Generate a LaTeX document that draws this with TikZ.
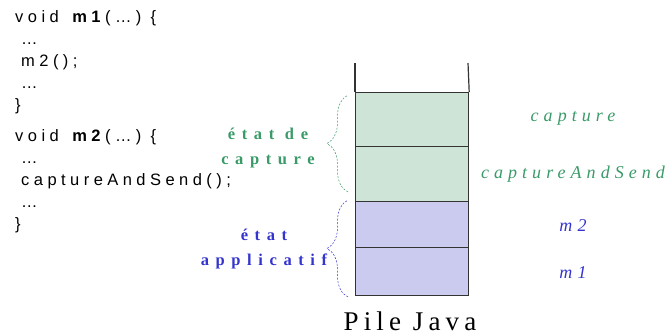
\documentclass[tikz,border=0pt]{standalone}
\usepackage{fontspec}
\setmainfont{Liberation Serif}
\newfontfamily\codefont[LetterSpace=27]{Liberation Sans}
\newfontfamily\tagfont[LetterSpace=28]{Liberation Serif}
\newfontfamily\bracefont[LetterSpace=40]{Liberation Serif}
\newfontfamily\pilefont[LetterSpace=19]{Liberation Serif}
\usetikzlibrary{decorations.pathreplacing}

\definecolor{capgreen}{RGB}{58,154,104}
\definecolor{appblue}{RGB}{52,52,206}
\definecolor{capfill}{RGB}{206,228,214}
\definecolor{appfill}{RGB}{203,203,240}

\tikzset{
  code/.style={anchor=north west, inner sep=0, align=left,
    font=\codefont\fontsize{16.5}{22}\selectfont},
  frame/.style={draw=black!80, line width=1.2pt, minimum width=113pt, inner sep=0, anchor=north west},
  tag/.style={font=\tagfont\itshape\fontsize{18}{22}\selectfont},
  state/.style={font=\bracefont\bfseries\fontsize{16.5}{25}\selectfont, align=center},
  stackbrace/.style={decorate, decoration={brace, amplitude=21pt}, dash pattern=on 2pt off 1.5pt, line width=0.5pt}
}

\begin{document}
\begin{tikzpicture} [x=1pt, y=-1pt]
\useasboundingbox (0, 0) rectangle (671, 335);

\path (15, 10) node[code] (c1) {void \textbf{m1}(…) \{\\\hspace*{6pt}…\\\hspace*{6pt}m2();\\\hspace*{6pt}…\\\}}
      (15, 129) node[code] (c2) {void \textbf{m2}(…) \{\\\hspace*{6pt}…\\\hspace*{6pt}captureAndSend();\\\hspace*{6pt}…\\\}}

      (355, 92) node[frame, fill=capfill, minimum height=54pt] (fcap) {}
      (355, 146) node[frame, fill=capfill, minimum height=55pt] (fsend) {}
      (355, 201) node[frame, fill=appfill, minimum height=46pt] (fm2) {}
      (355, 247) node[frame, fill=appfill, minimum height=48pt] (fm1) {}

      (573, 118) node[tag, text=capgreen] (tcap) {capture}
      (573, 174) node[tag, text=capgreen] (tsend) {captureAndSend}
      (573, 226) node[tag, text=appblue] (tm2) {m2}
      (573, 273) node[tag, text=appblue] (tm1) {m1}

      (268, 148) node[state, text=capgreen] (scap) {état de\\capture}
      (264, 249) node[state, text=appblue] (sapp) {état\\applicatif}

      (410, 330) node[anchor=base, inner sep=0, font=\pilefont\fontsize{27}{30}\selectfont] (pile) {Pile Java}

      (355, 63) coordinate (wl)
      (468, 63) coordinate (wr)
      (348, 95) coordinate (b1)
      (348, 192) coordinate (b2)
      (348, 200) coordinate (b3)
      (348, 297) coordinate (b4);

\draw[black!80, line width=1.2pt] (fcap.north west) -- (wl);
\draw[black!80, line width=1.2pt] (fcap.north east) -- (wr);

\draw[stackbrace, capgreen] (b2) -- (b1);
\draw[stackbrace, appblue] (b4) -- (b3);
\end{tikzpicture}
\end{document}
